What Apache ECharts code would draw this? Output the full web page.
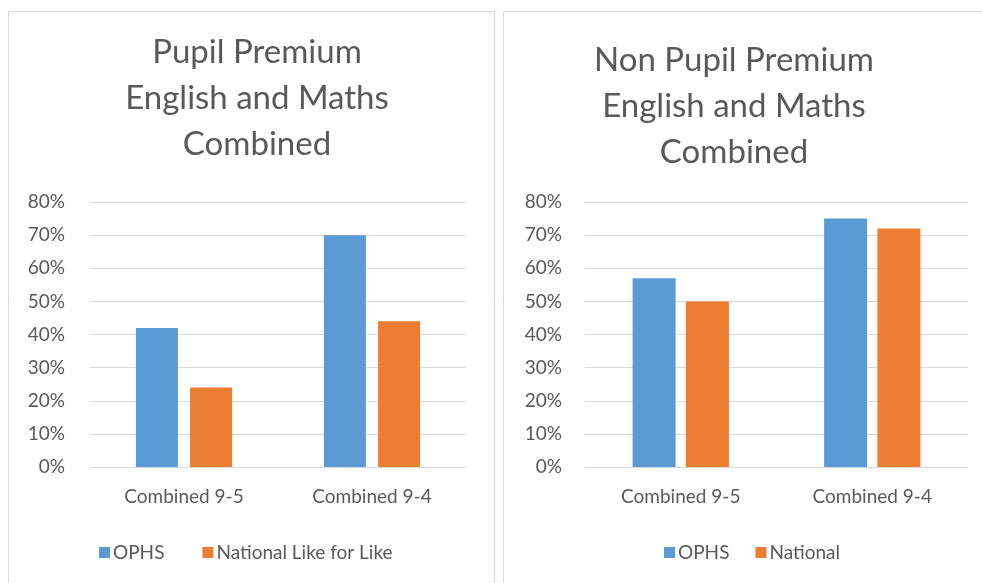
<!DOCTYPE html>
<html>
<head>
<meta charset="utf-8">
<script src="https://cdn.jsdelivr.net/npm/echarts@6/dist/echarts.min.js"></script>
<style>
html,body{margin:0;padding:0;background:#fff;}
#chart{width:982px;height:583px;}
</style>
</head>
<body>
<div id="chart"></div>
<script>
var categories = ['Combined 9-5', 'Combined 9-4'];
var leftTitle = 'Pupil Premium\nEnglish and Maths\nCombined';
var rightTitle = 'Non Pupil Premium\nEnglish and Maths\nCombined';
var leftOPHS = [42, 70];
var leftNational = [24, 44];
var rightOPHS = [57, 75];
var rightNational = [50, 72];
var leftNames = ['OPHS', 'National Like for Like'];
var rightNames = ['OPHS', 'National'];
var yTicks = {min: 0, max: 80, interval: 10};

var FONT = 'Lato';
var TXT = '#595959';
var BLUE = '#5b9bd5';
var ORANGE = '#ed7d31';

function yAxis(idx, margin) {
  return {
    type: 'value', gridIndex: idx, min: yTicks.min, max: yTicks.max, interval: yTicks.interval,
    axisLabel: {formatter: '{value}%', color: TXT, fontSize: 19, fontFamily: FONT, margin: margin},
    splitLine: {lineStyle: {color: '#d9d9d9', width: 1}},
    axisLine: {show: false}, axisTick: {show: false}
  };
}
function xAxis(idx) {
  return {
    type: 'category', gridIndex: idx, data: categories,
    axisLabel: {color: TXT, fontSize: 19, fontFamily: FONT, margin: 20},
    axisLine: {lineStyle: {color: '#d9d9d9'}}, axisTick: {show: false}
  };
}

var chart = echarts.init(document.getElementById('chart'));
chart.setOption({
  animation: false,
  backgroundColor: '#fff',
  graphic: [
    {type: 'rect', shape: {x: 8.5, y: 11.5, width: 486, height: 600}, style: {fill: 'none', stroke: '#d9d9d9', lineWidth: 1}, z: -1},
    {type: 'rect', shape: {x: 503.5, y: 11.5, width: 490, height: 600}, style: {fill: 'none', stroke: '#d9d9d9', lineWidth: 1}, z: -1},
    {type: 'text', x: 257, y: 29, style: {text: leftTitle, textAlign: 'center', fill: TXT, font: '33px Lato', lineHeight: 46}},
    {type: 'text', x: 734, y: 37, style: {text: rightTitle, textAlign: 'center', fill: TXT, font: '33px Lato', lineHeight: 46}}
  ],
  legend: [
    {data: leftNames, left: 94, top: 538, itemWidth: 11, itemHeight: 11, itemGap: 38, icon: 'rect',
     textStyle: {color: TXT, fontSize: 19, fontFamily: FONT, padding: [0, 0, 0, -2]}},
    {data: rightNames, left: 659, top: 538, itemWidth: 11, itemHeight: 11, itemGap: 26, icon: 'rect',
     textStyle: {color: TXT, fontSize: 19, fontFamily: FONT, padding: [0, 0, 0, -2]}}
  ],
  grid: [
    {left: 90, right: 516, top: 202, bottom: 116},
    {left: 585, right: 14, top: 202, bottom: 116}
  ],
  xAxis: [xAxis(0), xAxis(1)],
  yAxis: [yAxis(0, 25), yAxis(1, 23)],
  series: [
    {name: leftNames[0], type: 'bar', xAxisIndex: 0, yAxisIndex: 0, data: leftOPHS, itemStyle: {color: BLUE}, barWidth: 42, barGap: '29%'},
    {name: leftNames[1], type: 'bar', xAxisIndex: 0, yAxisIndex: 0, data: leftNational, itemStyle: {color: ORANGE}, barWidth: 42, barGap: '29%'},
    {name: rightNames[0], type: 'bar', xAxisIndex: 1, yAxisIndex: 1, data: rightOPHS, itemStyle: {color: BLUE}, barWidth: 43, barGap: '24%'},
    {name: rightNames[1], type: 'bar', xAxisIndex: 1, yAxisIndex: 1, data: rightNational, itemStyle: {color: ORANGE}, barWidth: 43, barGap: '24%'}
  ]
});
</script>
</body>
</html>
